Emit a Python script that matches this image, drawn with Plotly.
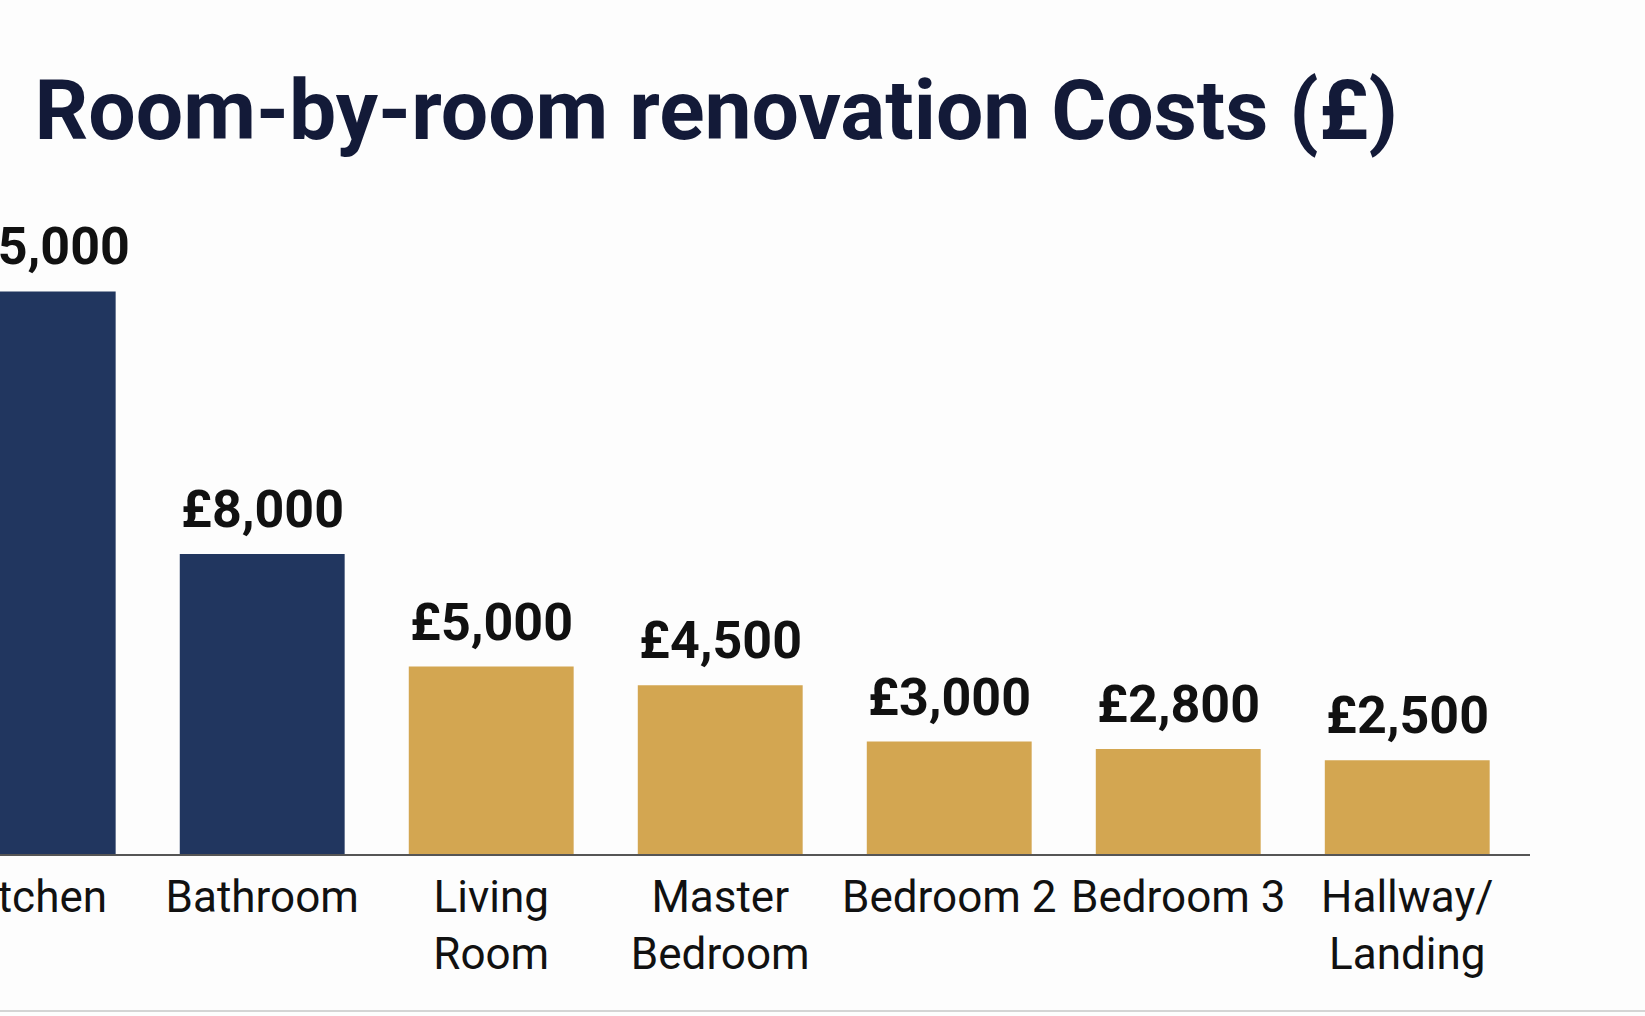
import plotly.graph_objects as go

# room costs in GBP
rooms = ['Kitchen', 'Bathroom', 'Living<br>Room', 'Master<br>Bedroom',
         'Bedroom 2', 'Bedroom 3', 'Hallway/<br>Landing']
costs = [15000, 8000, 5000, 4500, 3000, 2800, 2500]
major_rooms = ['Kitchen', 'Bathroom']  # drawn in navy, rest in gold

navy = '#21365f'
gold = '#d3a651'
bar_colors = [navy if r in major_rooms else gold for r in rooms]
cost_labels = ['£{:,}'.format(c) for c in costs]

fig = go.Figure(go.Bar(x=rooms,
                       y=costs,
                       marker=dict(color=bar_colors, line=dict(width=0)),
                       width=0.72,
                       hoverinfo='skip'
                       ))

# value labels above each bar
for r, c, lab in zip(rooms, costs, cost_labels):
    fig.add_annotation(x=r, y=c, text=lab, showarrow=False,
                       yanchor='bottom', yshift=12,
                       font=dict(family='Roboto', size=52, color='#111111',
                                 weight='bold'))

fig.update_layout(
    width=1645, height=1016,
    margin=dict(l=0, r=115, t=180, b=162),
    paper_bgcolor='#fdfdfd',
    plot_bgcolor='#fdfdfd',
    showlegend=False,
    title=dict(text='Room-by-room renovation Costs (£)',
               x=0.021, xanchor='left', xref='container',
               y=0.892, yanchor='middle', yref='container',
               automargin=False,
               font=dict(family='Roboto', size=84, color='#131a38',
                         weight='bold')),
    xaxis=dict(range=[-0.145, 6.536], showgrid=False, ticks='',
               automargin=False,
               showline=True, linecolor='#555555', linewidth=2,
               tickfont=dict(family='Roboto', size=44, color='#111111'),
               ticklabelstandoff=3),
    yaxis=dict(range=[0, 17973], visible=False, showgrid=False,
               automargin=False),
    shapes=[dict(type='line', xref='paper', yref='paper',
                 x0=-0.01, x1=1.08, y0=-0.233, y1=-0.233,
                 line=dict(color='#d4d4d4', width=2))],
)

# drop the browser's default page margin so the figure sits at 0,0
fig.write_html("out.html", config={'displayModeBar': False},
               post_script="document.body.style.margin='0';")
